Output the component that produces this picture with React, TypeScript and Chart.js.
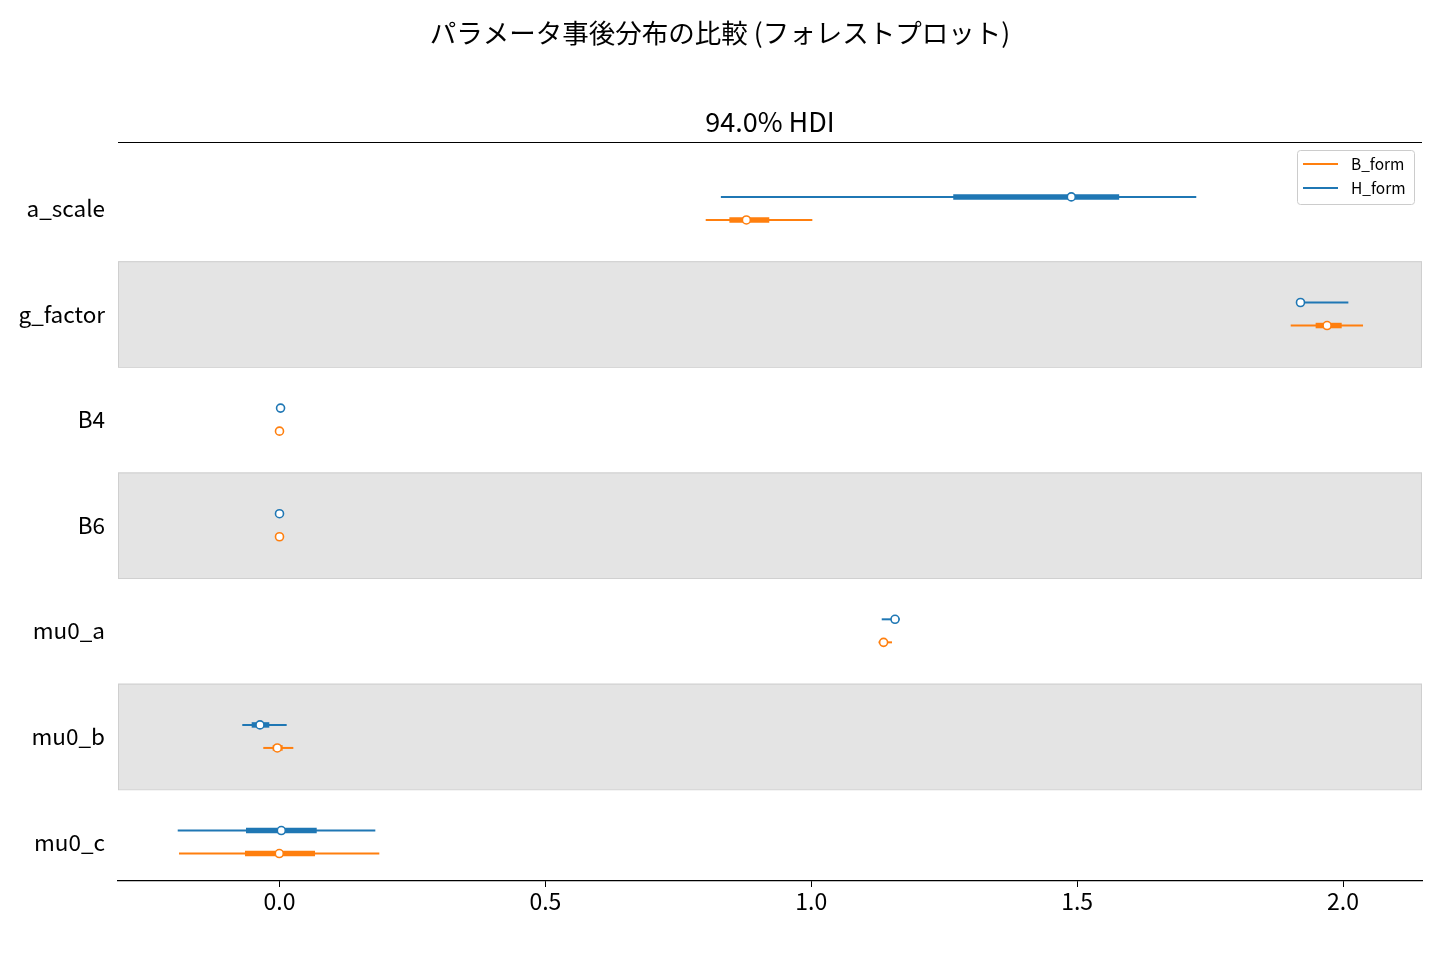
import React, { useEffect, useRef } from "react";
import { Chart, registerables } from "chart.js";

Chart.register(...registerables);

const params = ["a_scale", "g_factor", "B4", "B6", "mu0_a", "mu0_b", "mu0_c"];
const xTicks = [0, 0.5, 1.0, 1.5, 2.0];

// H_form (blue)
const hMedian = [1.489, 1.92, 0.002, 0.0, 1.1575, -0.0367, 0.0034];
const hHdiLow = [0.83, 1.913, 0.001, -0.001, 1.1325, -0.07, -0.1914];
const hHdiHigh = [1.724, 2.01, 0.003, 0.001, 1.1664, 0.0135, 0.1802];
const hIqrLow = [1.267, 1.916, 0.0015, -0.0005, 1.15, -0.0523, -0.063];
const hIqrHigh = [1.579, 1.926, 0.0025, 0.0005, 1.163, -0.0192, 0.07];

// B_form (orange)
const bMedian = [0.878, 1.97, 0.0, 0.0, 1.136, -0.0041, -0.0004];
const bHdiLow = [0.8015, 1.9016, -0.001, -0.001, 1.1265, -0.0305, -0.189];
const bHdiHigh = [1.002, 2.0376, 0.001, 0.001, 1.1518, 0.026, 0.1877];
const bIqrLow = [0.846, 1.9485, -0.0005, -0.0005, 1.132, -0.0128, -0.0649];
const bIqrHigh = [0.921, 1.9975, 0.0005, 0.0005, 1.141, 0.006, 0.0668];

const BLUE = "#1f77b4";
const ORANGE = "#ff7f0e";
const FONT = "'Noto Sans CJK JP', 'Noto Sans', sans-serif";

const seriesList = [
  { name: "H_form", color: BLUE, offset: -0.109, median: hMedian, hdiLow: hHdiLow, hdiHigh: hHdiHigh, iqrLow: hIqrLow, iqrHigh: hIqrHigh },
  { name: "B_form", color: ORANGE, offset: 0.109, median: bMedian, hdiLow: bHdiLow, hdiHigh: bHdiHigh, iqrLow: bIqrLow, iqrHigh: bIqrHigh },
];

function buildDatasets() {
  const ds: any[] = [];
  seriesList.forEach((s) => {
    params.forEach((_, i) => {
      const y = i + s.offset;
      ds.push({
        type: "scatter",
        showLine: true,
        data: [{ x: s.hdiLow[i], y }, { x: s.hdiHigh[i], y }],
        borderColor: s.color,
        borderWidth: 2,
        pointRadius: 0,
        order: 2,
      });
      ds.push({
        type: "scatter",
        showLine: true,
        data: [{ x: s.iqrLow[i], y }, { x: s.iqrHigh[i], y }],
        borderColor: s.color,
        borderWidth: 5.5,
        pointRadius: 0,
        order: 1,
      });
    });
    ds.push({
      type: "scatter",
      data: params.map((_, i) => ({ x: s.median[i], y: i + s.offset })),
      borderColor: s.color,
      backgroundColor: "#ffffff",
      borderWidth: 1.6,
      pointRadius: 4,
      order: 0,
    });
  });
  return ds;
}

const decorPlugin = {
  id: "decor",
  beforeDatasetsDraw(chart: any) {
    const { ctx, chartArea, scales } = chart;
    const y = scales.y;
    ctx.save();
    params.forEach((_, i) => {
      if (i % 2 === 1) {
        const t = y.getPixelForValue(i - 0.5);
        const b = y.getPixelForValue(i + 0.5);
        ctx.fillStyle = "#e4e4e4";
        ctx.fillRect(chartArea.left, t, chartArea.right - chartArea.left, b - t);
        ctx.strokeStyle = "#cfcfcf";
        ctx.lineWidth = 1;
        ctx.strokeRect(chartArea.left + 0.5, t + 0.5, chartArea.right - chartArea.left - 1, b - t);
      }
    });
    ctx.restore();
  },
  afterDraw(chart: any) {
    const { ctx, chartArea } = chart;
    ctx.save();
    // top spine
    ctx.strokeStyle = "#000";
    ctx.lineWidth = 1.2;
    ctx.beginPath();
    ctx.moveTo(chartArea.left, chartArea.top + 0.5);
    ctx.lineTo(chartArea.right, chartArea.top + 0.5);
    ctx.stroke();
    // titles
    ctx.fillStyle = "#000";
    ctx.textAlign = "center";
    ctx.textBaseline = "middle";
    ctx.font = `26.5px ${FONT}`;
    ctx.fillText("パラメータ事後分布の比較 (フォレストプロット)", chart.width / 2, 33);
    ctx.font = `27px ${FONT}`;
    ctx.fillText("94.0% HDI", (chartArea.left + chartArea.right) / 2, chartArea.top - 20);
    // legend
    const bw = 117;
    const bh = 54;
    const bx = chartArea.right - 8 - bw;
    const by = chartArea.top + 8;
    ctx.fillStyle = "rgba(255,255,255,0.85)";
    ctx.strokeStyle = "#cccccc";
    ctx.lineWidth = 1;
    ctx.beginPath();
    ctx.roundRect(bx + 0.5, by + 0.5, bw, bh, 3);
    ctx.fill();
    ctx.stroke();
    const entries = [seriesList[1], seriesList[0]];
    entries.forEach((s, k) => {
      const ly = by + 14 + k * 24;
      ctx.strokeStyle = s.color;
      ctx.lineWidth = 2;
      ctx.beginPath();
      ctx.moveTo(bx + 6, ly);
      ctx.lineTo(bx + 41, ly);
      ctx.stroke();
      ctx.fillStyle = "#000";
      ctx.textAlign = "left";
      ctx.font = `15.5px ${FONT}`;
      ctx.fillText(s.name, bx + 54, ly);
    });
    ctx.restore();
  },
};

export default function App() {
  const ref = useRef<HTMLCanvasElement | null>(null);
  useEffect(() => {
    if (!ref.current) return;
    const chart = new Chart(ref.current, {
      type: "scatter",
      data: { datasets: buildDatasets() },
      options: {
        animation: false,
        responsive: false,
        devicePixelRatio: 1,
        layout: { padding: { left: 0, right: 18, top: 142, bottom: 0 } },
        plugins: { legend: { display: false }, tooltip: { enabled: false }, title: { display: false } },
        scales: {
          x: {
            type: "linear",
            position: "bottom",
            min: -0.3037,
            max: 2.1485,
            afterBuildTicks: (scale: any) => {
              scale.ticks = xTicks.map((v) => ({ value: v }));
            },
            afterFit: (scale: any) => {
              scale.height = 79;
            },
            border: { display: true, color: "#000", width: 1.2 },
            grid: { display: true, drawOnChartArea: false, drawTicks: true, tickLength: 6, color: "#000", lineWidth: 1 },
            ticks: {
              color: "#000",
              padding: 0,
              font: { family: FONT, size: 23 },
              callback: (v: any) => Number(v).toFixed(1),
            },
          },
          y: {
            type: "linear",
            reverse: true,
            min: -0.629,
            max: 6.369,
            afterBuildTicks: (scale: any) => {
              scale.ticks = params.map((_, i) => ({ value: i }));
            },
            afterFit: (scale: any) => {
              scale.width = 118;
            },
            border: { display: false },
            grid: { display: false, drawTicks: false },
            ticks: {
              color: "#000",
              padding: 13,
              font: { family: FONT, size: 22.5 },
              callback: (v: any) => params[Math.round(Number(v))] ?? "",
            },
          },
        },
      },
      plugins: [decorPlugin],
    } as any);
    return () => chart.destroy();
  }, []);
  return (
    <div style={{ position: "fixed", left: 0, top: 0, width: 1440, height: 960, background: "#fff" }}>
      <canvas ref={ref} width={1440} height={960} />
    </div>
  );
}
